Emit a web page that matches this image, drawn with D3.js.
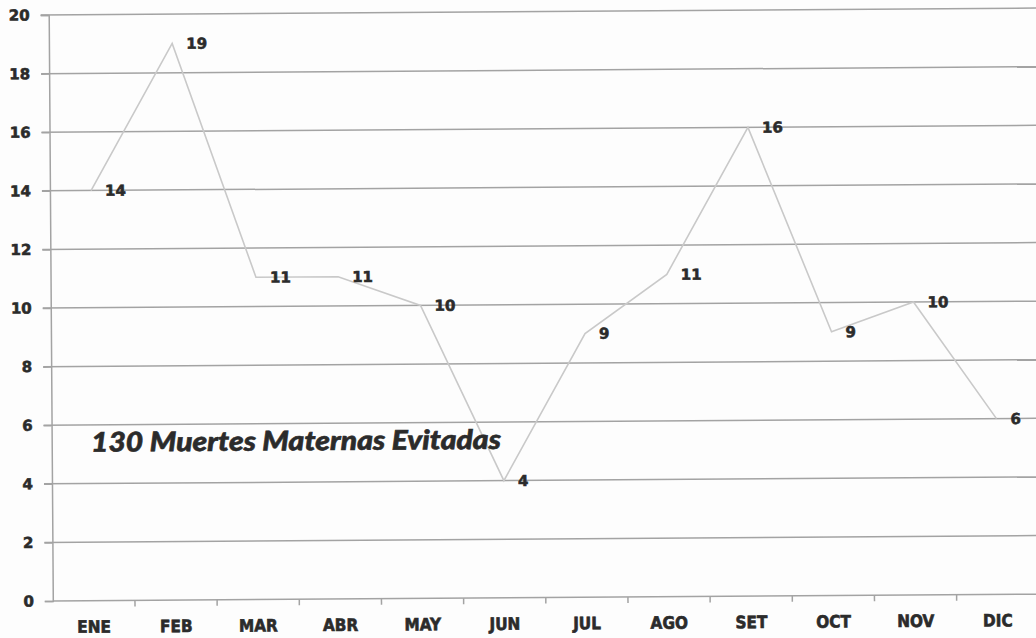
<!DOCTYPE html>
<html>
<head>
<meta charset="utf-8">
<script src="https://cdn.jsdelivr.net/npm/d3@7"></script>
<style>
  body { margin: 0; background: #fdfdfd; }
  svg { display: block; }
</style>
</head>
<body>
<div id="chart"></div>
<script>
// data
const months = ["ENE", "FEB", "MAR", "ABR", "MAY", "JUN", "JUL", "AGO", "SET", "OCT", "NOV", "DIC"];
const values = [14, 19, 11, 11, 10, 4, 9, 11, 16, 9, 10, 6];
const yTicks = [0, 2, 4, 6, 8, 10, 12, 14, 16, 18, 20];
const note = "130 Muertes Maternas Evitadas";

const width = 1036, height = 638;
const padding = {top: 15, left: 52.8, bottom: 601};
const plotW = 986;

const gridCol = "#a3a3a3";
const lineCol = "#c9c9c9";
const textCol = "#2b2b2b";

const svg = d3.select("#chart").append("svg")
  .attr("width", width)
  .attr("height", height);

// the scan is tilted a little
const g = svg.append("g").attr("transform", "rotate(-0.4," + padding.left + "," + padding.bottom + ")");

const x = d3.scaleBand().domain(months).range([padding.left, padding.left + plotW]);
const y = d3.scaleLinear().domain([0, 20]).range([padding.bottom, padding.top]);
const bw = x.bandwidth();

// heavy scanned-looking text
function heavy(sel, size, family) {
  sel.attr("fill", textCol)
    .attr("stroke", textCol)
    .attr("stroke-width", 0.6)
    .style("font-family", family || "DejaVu Sans")
    .style("font-weight", "bold")
    .style("font-size", size + "px");
}

// gridlines (they stick out a bit to the left of the axis)
g.selectAll(".grid")
  .data(yTicks.filter(d => d > 0))
  .join("line")
    .attr("class", "grid")
    .attr("x1", padding.left - 8)
    .attr("x2", padding.left + plotW + 10)
    .attr("y1", d => y(d))
    .attr("y2", d => y(d))
    .attr("stroke", gridCol)
    .attr("stroke-width", 1.5);

// y axis
const yAxis = d3.axisLeft(y).tickValues(yTicks).tickSize(8).tickPadding(11);
const ya = g.append("g")
  .attr("class", "axis y")
  .attr("transform", "translate(" + padding.left + ",0)")
  .call(yAxis);
ya.select(".domain").attr("stroke", gridCol).attr("stroke-width", 1.5);
ya.selectAll(".tick line").attr("stroke", gridCol).attr("stroke-width", 1.5);
ya.selectAll(".tick text").call(heavy, 15);

// x axis line + ticks between months
g.append("line")
  .attr("x1", padding.left).attr("x2", padding.left + plotW + 10)
  .attr("y1", y(0)).attr("y2", y(0))
  .attr("stroke", gridCol).attr("stroke-width", 1.5);

g.selectAll(".xtick")
  .data(months.slice(1))
  .join("line")
    .attr("class", "xtick")
    .attr("x1", d => x(d)).attr("x2", d => x(d))
    .attr("y1", y(0)).attr("y2", y(0) + 6)
    .attr("stroke", gridCol).attr("stroke-width", 1.5);

g.selectAll(".xlab")
  .data(months)
  .join("text")
    .attr("class", "xlab")
    .attr("x", d => x(d) + bw / 2)
    .attr("y", padding.bottom + 32)
    .attr("text-anchor", "middle")
    .call(heavy, 17, "'DejaVu Sans Condensed', 'DejaVu Sans'")
    .text(d => d);

// the line
const line = d3.line()
  .x((d, i) => x(months[i]) + bw / 2)
  .y(d => y(d));

g.append("path")
  .datum(values)
  .attr("fill", "none")
  .attr("stroke", lineCol)
  .attr("stroke-width", 1.6)
  .attr("d", line);

// value labels to the right of each point
g.selectAll(".vlab")
  .data(values)
  .join("text")
    .attr("class", "vlab")
    .attr("x", (d, i) => x(months[i]) + bw / 2 + 14)
    .attr("y", d => y(d))
    .attr("dy", "0.36em")
    .call(heavy, 15)
    .text(d => d);

// note
g.append("text")
  .attr("x", 92)
  .attr("y", 452)
  .attr("textLength", 410)
  .attr("lengthAdjust", "spacingAndGlyphs")
  .call(heavy, 27, "Lato")
  .style("font-weight", 900)
  .style("font-style", "italic")
  .text(note);
</script>
</body>
</html>
